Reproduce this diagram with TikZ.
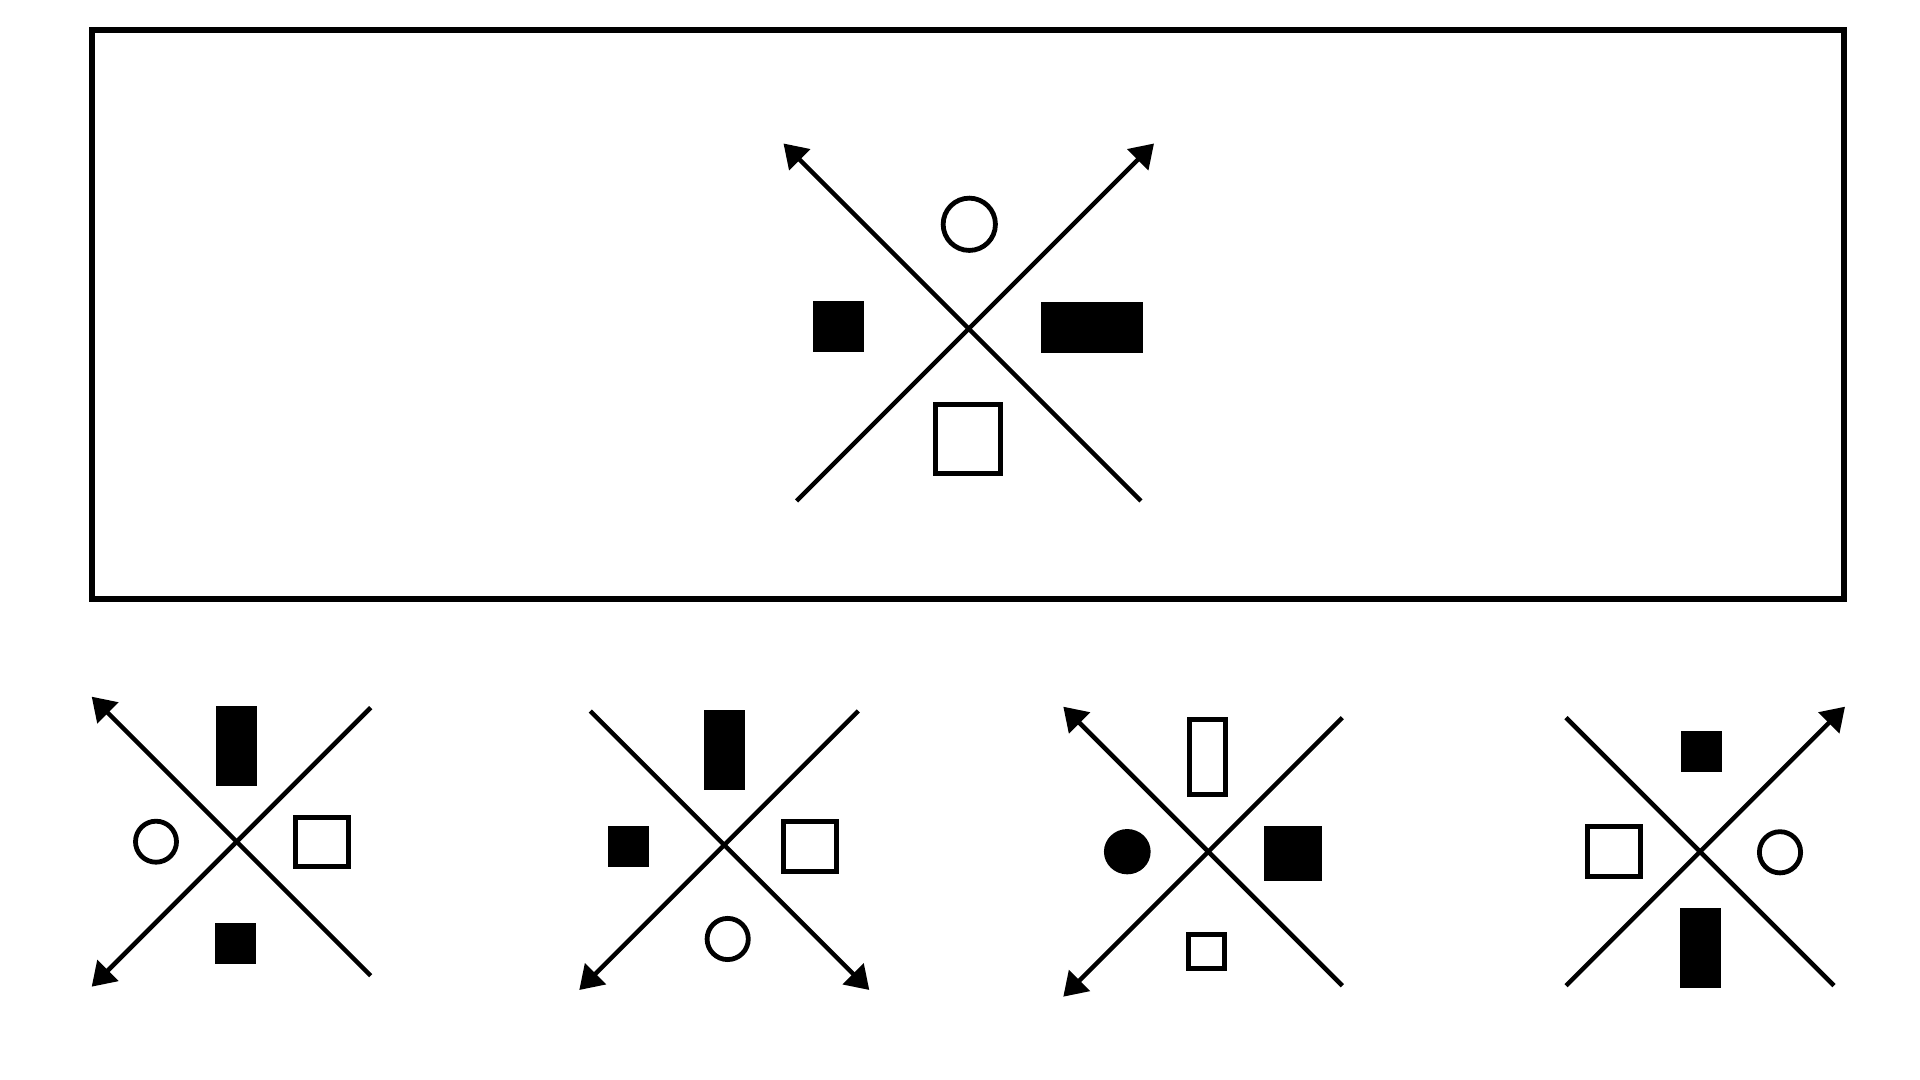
\documentclass[tikz,border=0pt]{standalone}
\usetikzlibrary{arrows.meta,shapes.geometric}
\begin{document}
\begin{tikzpicture}[x=0.01cm,y=-0.01cm,
  axis/.style={line width=0.045cm, line cap=butt},
  sz/.style 2 args={minimum width=#1*0.01cm, minimum height=#2*0.01cm},
  fillbox/.style={rectangle, fill=black, draw=none, inner sep=0pt, outer sep=0pt},
  openbox/.style={rectangle, draw=black, fill=white, line width=0.05cm, inner sep=0pt},
  ring/.style={circle, draw=black, fill=white, line width=0.048cm, inner sep=0pt, minimum size=#1*0.01cm},
  dot/.style={ellipse, fill=black, draw=none, inner sep=0pt}
]
\useasboundingbox (0,0) rectangle (1920,1080);
\draw[line width=0.058cm] (92,30) rectangle (1844,599);

% ---- main figure
\coordinate (m-tl) at (783.5,143.5);
\coordinate (m-br) at (1141,501);
\coordinate (m-bl) at (796.5,501);
\coordinate (m-tr) at (1154,143.5);
\draw[axis,{Triangle[length=0.23cm,width=0.29cm]}-] (m-tl) -- (m-br);
\draw[axis,-{Triangle[length=0.23cm,width=0.29cm]}] (m-bl) -- (m-tr);
\node[ring=52.3] (m-top) at (969.3,224.3) {};
\node[fillbox,sz={51}{51}] (m-left) at (838.5,326.3) {};
\node[fillbox,sz={102}{51}] (m-right) at (1092,327.3) {};
\node[openbox,sz={65}{68.7}] (m-bot) at (968,439) {};

% ---- panel 1
\coordinate (a-tl) at (91.7,696.7);
\coordinate (a-br) at (370.7,975.7);
\coordinate (a-bl) at (91.7,986.7);
\coordinate (a-tr) at (370.7,707.7);
\draw[axis,{Triangle[length=0.23cm,width=0.29cm]}-] (a-tl) -- (a-br);
\draw[axis,{Triangle[length=0.23cm,width=0.29cm]}-] (a-bl) -- (a-tr);
\node[fillbox,sz={41}{80}] (a-top) at (236.5,746) {};
\node[ring=41] (a-left) at (156,841.7) {};
\node[openbox,sz={52.4}{49.3}] (a-right) at (322,842) {};
\node[fillbox,sz={41}{41}] (a-bot) at (235.5,943.5) {};

% ---- panel 2
\coordinate (b-tl) at (590.3,711);
\coordinate (b-br) at (869.3,990);
\coordinate (b-bl) at (579.3,990);
\coordinate (b-tr) at (858.3,711);
\draw[axis,-{Triangle[length=0.23cm,width=0.29cm]}] (b-tl) -- (b-br);
\draw[axis,{Triangle[length=0.23cm,width=0.29cm]}-] (b-bl) -- (b-tr);
\node[fillbox,sz={41}{80}] (b-top) at (724.5,750) {};
\node[fillbox,sz={41}{41}] (b-left) at (628.5,846.5) {};
\node[openbox,sz={52.7}{49.7}] (b-right) at (810,846.3) {};
\node[ring=41.2] (b-bot) at (727.7,939) {};

% ---- panel 3
\coordinate (c-tl) at (1063.3,706.7);
\coordinate (c-br) at (1342.3,985.7);
\coordinate (c-bl) at (1063.3,996.7);
\coordinate (c-tr) at (1342.3,717.7);
\draw[axis,{Triangle[length=0.23cm,width=0.29cm]}-] (c-tl) -- (c-br);
\draw[axis,{Triangle[length=0.23cm,width=0.29cm]}-] (c-bl) -- (c-tr);
\node[openbox,sz={35.7}{75}] (c-top) at (1207.3,756.7) {};
\node[dot,sz={46.7}{45.3}] (c-left) at (1127.3,851.7) {};
\node[fillbox,sz={58}{54.7}] (c-right) at (1293,853.3) {};
\node[openbox,sz={35.7}{34.3}] (c-bot) at (1206.3,951.7) {};

% ---- panel 4
\coordinate (d-tl) at (1566,717.7);
\coordinate (d-br) at (1834,985.7);
\coordinate (d-bl) at (1566,985.7);
\coordinate (d-tr) at (1845,706.7);
\draw[axis] (d-tl) -- (d-br);
\draw[axis,-{Triangle[length=0.23cm,width=0.29cm]}] (d-bl) -- (d-tr);
\node[fillbox,sz={41}{41}] (d-top) at (1701.5,751.5) {};
\node[openbox,sz={52.7}{49.7}] (d-left) at (1614,851.3) {};
\node[ring=41.2] (d-right) at (1780,852.3) {};
\node[fillbox,sz={41}{80}] (d-bot) at (1700.5,948) {};
\end{tikzpicture}
\end{document}
